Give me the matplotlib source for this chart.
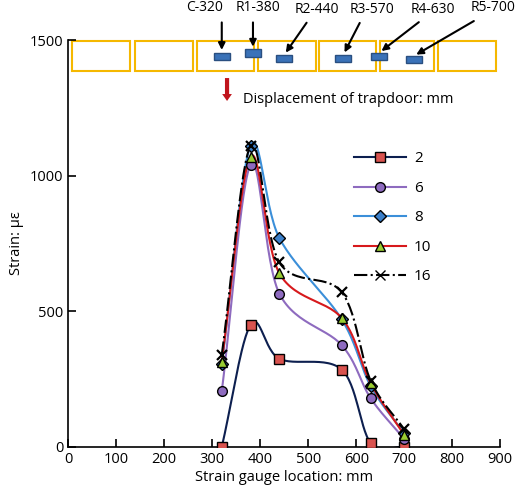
import numpy as np
import matplotlib.pyplot as plt
from matplotlib.patches import Rectangle

plt.rcParams['font.family'] = ['Open Sans', 'DejaVu Sans']

# gauge locations (mm) and strain for each trapdoor displacement
locations = [320, 380, 440, 570, 630, 700]
gauge_labels = ["C-320", "R1-380", "R2-440", "R3-570", "R4-630", "R5-700"]
strain_2 = [0, 450, 325, 285, 15, 0]
strain_6 = [205, 1040, 565, 375, 180, 30]
strain_8 = [305, 1110, 770, 470, 225, 50]
strain_10 = [315, 1070, 640, 475, 235, 45]
strain_16 = [340, 1110, 680, 570, 245, 65]


def smooth(x, y, n=30):
    # Catmull-Rom spline through the points
    x = np.asarray(x, float)
    y = np.asarray(y, float)
    px = np.concatenate([[2 * x[0] - x[1]], x, [2 * x[-1] - x[-2]]])
    py = np.concatenate([[2 * y[0] - y[1]], y, [2 * y[-1] - y[-2]]])
    xs, ys = [], []
    t = np.linspace(0, 1, n)
    for i in range(1, len(px) - 2):
        for p, out in ((px, xs), (py, ys)):
            p0, p1, p2, p3 = p[i - 1], p[i], p[i + 1], p[i + 2]
            out.extend(0.5 * (2 * p1 + (-p0 + p2) * t
                              + (2 * p0 - 5 * p1 + 4 * p2 - p3) * t ** 2
                              + (-p0 + 3 * p1 - 3 * p2 + p3) * t ** 3))
    return np.array(xs), np.array(ys)


fig = plt.figure(figsize=(5.2, 5.0), dpi=100)
ax = fig.add_axes([0.131, 0.106, 0.831, 0.814])

series = [
    ("2", strain_2, "#0d1f4f", "s", "#d9534f", "-"),
    ("6", strain_6, "#8e6bbf", "o", "#8e6bbf", "-"),
    ("8", strain_8, "#3b8fd9", "D", "#3b7fc9", "-"),
    ("10", strain_10, "#d7191c", "^", "#9acd32", "-"),
    ("16", strain_16, "black", "x", "black", "-."),
]
for name, vals, lc, mk, fc, ls in series:
    sx, sy = smooth(locations, vals)
    ax.plot(sx, sy, color=lc, lw=1.5, ls=ls, zorder=2)
    ms = 7 if mk != "D" else 6
    ax.plot(locations, vals, ls="none", marker=mk, ms=ms, mfc=fc,
            mec="black", mew=1.0 if mk != "x" else 1.6, zorder=3)
    ax.plot([], [], color=lc, ls=ls, lw=1.5, marker=mk, ms=ms, mfc=fc,
            mec="black", label=name)

ax.set_xlim(0, 900)
ax.set_ylim(0, 1500)
ax.set_xticks(range(0, 901, 100))
ax.set_yticks([0, 500, 1000, 1500])
ax.tick_params(direction="in", labelsize=10.5, length=6, width=1.2)
ax.spines["top"].set_visible(False)
ax.spines["right"].set_visible(False)
for s in ("left", "bottom"):
    ax.spines[s].set_linewidth(1.2)
ax.set_xlabel("Strain gauge location: mm", fontsize=10.5, labelpad=2)
ax.set_ylabel("Strain: µε", fontsize=10.5)

# trapdoor blocks
blocks = [(8, 129), (140, 260), (269, 388), (396, 517), (523, 642), (650, 762), (771, 892)]
for x0, x1 in blocks:
    ax.add_patch(Rectangle((x0, 1385), x1 - x0, 112, fill=False, ec="#f5b800",
                           lw=1.5, clip_on=False))
gauge_pos = [(320, 1440), (385, 1452), (450, 1432), (573, 1432), (648, 1440), (720, 1428)]
label_pos = [(285, 1618), (396, 1618), (519, 1612), (633, 1612), (760, 1612), (885, 1618)]
tail_pos = [(320, 1575), (385, 1575), (500, 1572), (610, 1572), (735, 1572), (850, 1575)]
for (gx, gy), (lx, ly), (tx, ty), lab in zip(gauge_pos, label_pos, tail_pos, gauge_labels):
    ax.add_patch(Rectangle((gx - 17, gy - 13), 34, 26, fc="#3a72b8", ec="#2a4f80",
                           lw=1, clip_on=False, zorder=4))
    ax.annotate("", xy=(gx, gy + 13), xytext=(tx, ty),
                arrowprops=dict(arrowstyle="-|>", color="black", lw=1.5),
                annotation_clip=False)
    ax.text(lx, ly, lab, ha="center", va="center", fontsize=10, clip_on=False)

ax.annotate("", xy=(331, 1265), xytext=(331, 1370),
            arrowprops=dict(arrowstyle="simple,head_width=0.7,head_length=0.5,tail_width=0.3",
                            color="#c0141c", lw=0), annotation_clip=False)
ax.text(365, 1282, "Displacement of trapdoor: mm", fontsize=10.5, va="center")

ax.legend(loc="upper left", bbox_to_anchor=(0.645, 0.745), frameon=False, fontsize=11,
          handlelength=3.4, handletextpad=0.5, labelspacing=0.95, borderpad=0)

fig.savefig("out.png", dpi=100)
